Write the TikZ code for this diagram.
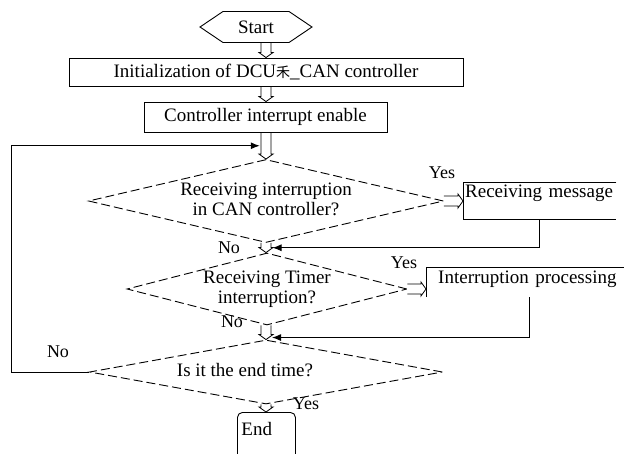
\documentclass[tikz,border=0pt]{standalone}
\usepackage{fontspec}
\setmainfont{Liberation Serif}
\newfontfamily\cjk{Noto Sans CJK SC}
\usetikzlibrary{arrows.meta,shapes.geometric,shapes.symbols,calc}

\newcommand{\dtext}[1]{\makebox[0pt]{\begin{tabular}{@{}c@{}}#1\end{tabular}}}

\begin{document}
\begin{tikzpicture}[x=1pt,y=-1pt]

  \tikzstyle{every node}=[font=\fontsize{19}{20}\selectfont]

  \tikzset{box/.style={draw, line width=0.9pt, inner sep=0pt}}
  \tikzset{cond/.style={diamond, draw, dash pattern=on 9pt off 4pt,
      line width=0.9pt, inner sep=0pt, aspect=1}}
  % hollow block arrow between two points
  \tikzset{flow/.style={line width=0.8pt, to path={
        let \p1=(\tikztostart), \p2=(\tikztotarget),
            \p3=($(\p2)!5pt!(\p1)$) in
        ($(\p1)!5pt!90:(\p2)$) -- ($(\p3)!5pt!90:(\p2)$)
        -- ($(\p3)!7pt!90:(\p2)$) -- (\p2)
        -- ($(\p3)!7pt!-90:(\p2)$) -- ($(\p3)!5pt!-90:(\p2)$)
        -- ($(\p1)!5pt!-90:(\p2)$) \tikztonodes}}}
  \tikzset{back/.style={line width=1pt, -{Latex[length=9pt,width=7pt]}}}
  \tikzset{tag/.style={font=\fontsize{18}{20}\selectfont, inner sep=0pt}}

  \useasboundingbox (0,0) rectangle (624,453);

  % Steps
  \node[signal, signal to=east and west, signal pointer angle=68, draw,
    line width=0.9pt, minimum width=112pt, minimum height=31pt, inner sep=0pt]
    (Start) at (256,27) {Start};
  \node[box, minimum width=394pt, minimum height=28pt] (Init) at (266,72)
    {Initialization of DCU{\cjk\fontsize{14}{14}\selectfont 禾}\_CAN controller};
  \node[box, minimum width=243pt, minimum height=30pt] (Ctrl) at (265.5,117)
    {Controller interrupt enable};

  % Decisions
  \node[cond, minimum width=355pt, minimum height=83pt] (D1) at (266,201)
    {\dtext{Receiving interruption\\in CAN controller?}};
  \node[cond, minimum width=280pt, minimum height=72pt] (D2) at (267,289)
    {\dtext{Receiving Timer\\interruption?}};
  \node[cond, minimum width=353pt, minimum height=64pt] (D3) at (266,372)
    {\dtext{Is it the end time?\hspace*{42pt}}};

  % Side boxes, open on the right
  \node[anchor=north west, text width=149pt, inner sep=2pt, text height=13pt,
    text depth=20pt, align=left] (RM) at (463,182) {Receiving message};
  \draw[box] (RM.north east) -- (RM.north west) -- (RM.south west) -- (RM.south east);
  \node[anchor=north west, text width=190pt, inner xsep=12pt, inner ysep=2pt,
    text height=14pt, text depth=12pt, align=left] (IP) at (426,267)
    {Interruption processing};
  \draw[box] (IP.north east) -- (IP.north west) -- (IP.south west);

  \node[draw, line width=0.9pt, rounded corners=5pt, anchor=north west,
    text width=50pt, inner xsep=4pt, inner ysep=3pt, text height=20pt,
    text depth=24pt, align=left] (End) at (237,412) {End};

  % Main flow
  \draw[flow] (Start.south -| Init.north) to (Init.north);
  \draw[flow] (Init.south) to (Init.south |- Ctrl.north);
  \draw[flow] (Ctrl.south -| D1.north) to (D1.north);
  \draw[flow] (D1.south) to (D2.north -| D1.south);
  \draw[flow] (D2.south -| D3.north) to (D3.north);
  \draw[flow] (D3.south) to (End.north -| D3.south);
  \draw[flow] (D1.east) to (D1.east -| RM.west);
  \draw[flow] (D2.east) to (D2.east -| IP.west);

  % Returns
  \coordinate (join0) at ($(Ctrl.south)!0.5!(D1.north)+(-6,0)$);
  \coordinate (join1) at ($(D1.south)!0.5!(D2.north)+(6,0)$);
  \coordinate (join2) at ($(D3.north)+(6,-2)$);
  \draw[back] ($(RM.south west)+(76,0)$) |- (join1);
  \draw[back] ($(IP.south west)+(103,0)$) |- (join2);
  \draw[back] (D3.west) -- ++(-78,0) |- (join0);

  % Answers
  \node[tag] (yes1) at (442,173) {Yes};
  \node[tag] (no1) at (229,248) {No};
  \node[tag] (yes2) at (404,263) {Yes};
  \node[tag] (no2) at (232,322) {No};
  \node[tag] (no3) at (58,352) {No};
  \node[tag] (yes3) at (306,404) {Yes};

\end{tikzpicture}
\end{document}
